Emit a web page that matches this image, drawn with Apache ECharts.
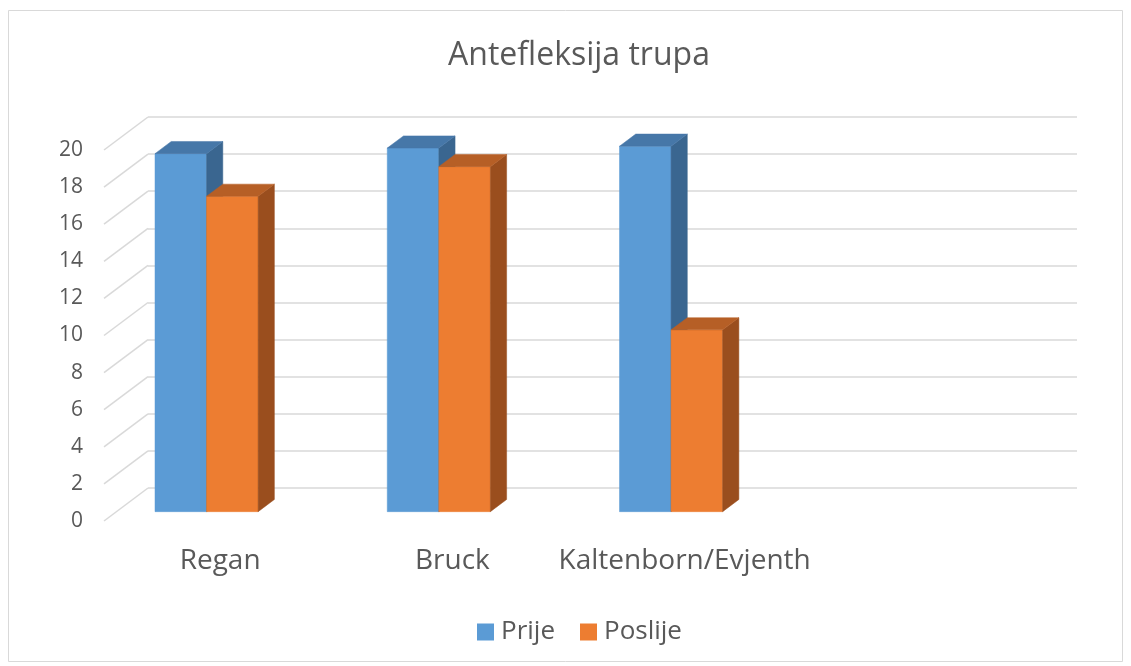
<!DOCTYPE html>
<html>
<head>
<meta charset="utf-8">
<script src="https://cdn.jsdelivr.net/npm/echarts@6/dist/echarts.min.js"></script>
<style>html,body{margin:0;padding:0;background:#fff;}#c{width:1131px;height:666px;}</style>
</head>
<body>
<div id="c"></div>
<script>
var categories = ['Regan', 'Bruck', 'Kaltenborn/Evjenth', ''];
var prije = [19.3, 19.6, 19.7];
var poslije = [17.0, 18.6, 9.8];
var yTicks = [0, 2, 4, 6, 8, 10, 12, 14, 16, 18, 20];
var seriesNames = ['Prije', 'Poslije'];

var DX = -44, DY = 33;          // full floor depth offset (back -> front)
var TF = 0.717, TB = 0.348;     // bar front / back depth fractions
var faceColors = [
  { front: '#5B9BD5', top: '#4677A8', side: '#3A6690' },
  { front: '#ED7D31', top: '#B65F26', side: '#9A4E1E' }
];

function barRender(si) {
  return function (params, api) {
    var c = api.value(0), v = api.value(1);
    var base = api.coord([c, 0]);
    var top = api.coord([c, v]);
    var bw = api.size([1, 0])[0];
    var w = 0.222 * bw;
    var x0 = base[0] - 0.334 * bw + si * w;
    var fx = DX * TF, fy = DY * TF, bx = DX * TB, by = DY * TB;
    var ddx = bx - fx, ddy = by - fy;
    var L = x0 + fx, R = x0 + w + fx, T = top[1] + fy, B = base[1] + fy;
    var col = faceColors[si];
    return {
      type: 'group',
      children: [
        { type: 'polygon', shape: { points: [[L, T], [R, T], [R, B], [L, B]] },
          style: { fill: col.front, stroke: col.front, lineWidth: 0.5 } },
        { type: 'polygon', shape: { points: [[R, T], [R + ddx, T + ddy], [R + ddx, B + ddy], [R, B]] },
          style: { fill: col.side, stroke: col.side, lineWidth: 0.5 } },
        { type: 'polygon', shape: { points: [[L, T], [L + ddx, T + ddy], [R + ddx, T + ddy], [R, T]] },
          style: { fill: col.top, stroke: col.top, lineWidth: 0.5 } }
      ]
    };
  };
}

function slantRender(params, api) {
  var v = api.value(0);
  var p = api.coord([0, v]);
  var x = params.coordSys.x;
  return { type: 'line', shape: { x1: x, y1: p[1], x2: x + DX, y2: p[1] + DY },
           style: { stroke: '#D9D9D9', lineWidth: 1.5 } };
}

var chart = echarts.init(document.getElementById('c'));
var font = '"Open Sans", sans-serif';
chart.setOption({
  animation: false,
  backgroundColor: '#fff',
  textStyle: { fontFamily: font },
  title: {
    text: 'Antefleksija trupa', left: 574, top: 35, textAlign: 'center',
    textStyle: { fontFamily: font, fontSize: 32, fontWeight: 'normal', color: '#595959' }
  },
  legend: {
    data: seriesNames, left: 472, top: 614, itemWidth: 17, itemHeight: 17, itemGap: 25,
    icon: 'rect',
    textStyle: { fontFamily: font, fontSize: 26, color: '#595959', padding: [0, 0, 0, 2] }
  },
  graphic: [{ type: 'rect', shape: { x: 8.5, y: 10.5, width: 1114, height: 651 },
              style: { fill: 'none', stroke: '#D9D9D9', lineWidth: 1 }, silent: true, z: -1 }],
  grid: [
    { left: 148, right: 54, top: 117, bottom: 178 },
    { left: 104, right: 98, top: 150, bottom: 145 }
  ],
  xAxis: [
    { type: 'category', gridIndex: 0, data: categories, boundaryGap: true,
      axisLine: { show: false }, axisTick: { show: false }, axisLabel: { show: false } },
    { type: 'category', gridIndex: 1, data: categories, boundaryGap: true,
      axisLine: { show: false }, axisTick: { show: false },
      axisLabel: { fontFamily: font, fontSize: 28, color: '#595959', margin: 26, interval: 0 } }
  ],
  yAxis: [
    { type: 'value', gridIndex: 0, min: 0, max: 20, interval: 2,
      axisLine: { show: false }, axisTick: { show: false }, axisLabel: { show: false },
      splitLine: { lineStyle: { color: '#D9D9D9', width: 1.5 } } },
    { type: 'value', gridIndex: 1, min: 0, max: 20, interval: 2,
      axisLine: { show: false }, axisTick: { show: false }, splitLine: { show: false },
      axisLabel: { fontFamily: font, fontSize: 21, color: '#595959', margin: 21 } }
  ],
  series: [
    { type: 'custom', name: '_grid', xAxisIndex: 0, yAxisIndex: 0, silent: true,
      renderItem: slantRender, data: yTicks.map(function (t) { return [t]; }),
      encode: { y: 0 }, z: 1 },
    { type: 'custom', name: seriesNames[0], xAxisIndex: 0, yAxisIndex: 0,
      itemStyle: { color: faceColors[0].front },
      renderItem: barRender(0), data: prije.map(function (v, i) { return [i, v]; }),
      encode: { x: 0, y: 1 }, z: 3 },
    { type: 'custom', name: seriesNames[1], xAxisIndex: 0, yAxisIndex: 0,
      itemStyle: { color: faceColors[1].front },
      renderItem: barRender(1), data: poslije.map(function (v, i) { return [i, v]; }),
      encode: { x: 0, y: 1 }, z: 4 }
  ]
});
</script>
</body>
</html>
